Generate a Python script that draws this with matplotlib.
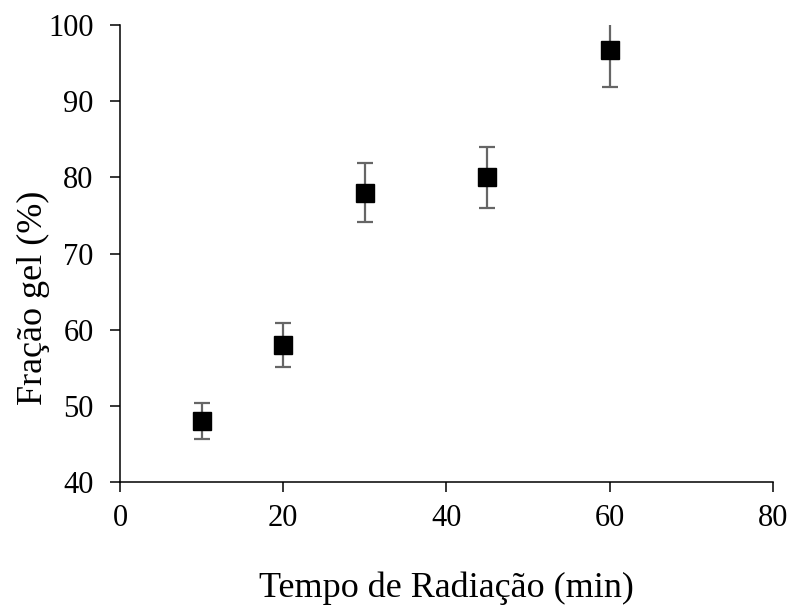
import matplotlib.pyplot as plt

# gel fraction vs irradiation time
tempo = [10, 20, 30, 45, 60]
fracao_gel = [48.0, 58.0, 78.0, 80.0, 96.7]
desvio = [2.4, 2.9, 3.9, 4.0, 4.9]

x_ticks = [0, 20, 40, 60, 80]
y_ticks = [40, 50, 60, 70, 80, 90, 100]

plt.rcParams['font.family'] = ['Liberation Serif', 'DejaVu Serif']

fig = plt.figure(figsize=(7.91, 6.08), dpi=100)
ax = fig.add_axes([0.1517, 0.2072, 0.8253, 0.7517])

ax.errorbar(tempo, fracao_gel, yerr=desvio, fmt='s', color='black',
            markersize=13, ecolor='#666666', elinewidth=1.6,
            capsize=6, capthick=1.6, zorder=3)

ax.set_xlim(0, 80)
ax.set_ylim(40, 100)
ax.set_xticks(x_ticks)
ax.set_yticks(y_ticks)

for s in ['top', 'right']:
    ax.spines[s].set_visible(False)
for s in ['left', 'bottom']:
    ax.spines[s].set_linewidth(1.1)
    ax.spines[s].set_color('black')

ax.tick_params(axis='both', direction='out', length=7, width=1.1, labelsize=22)
ax.tick_params(axis='x', pad=9)
ax.tick_params(axis='y', pad=12)

ax.set_xlabel('Tempo de Radiação (min)', fontsize=26, va='center')
ax.set_ylabel('Fração gel (%)', fontsize=26, va='center')
ax.xaxis.set_label_coords(0.5, -0.232)
ax.yaxis.set_label_coords(-0.133, 0.403)

fig.savefig('out.png', dpi=100)
